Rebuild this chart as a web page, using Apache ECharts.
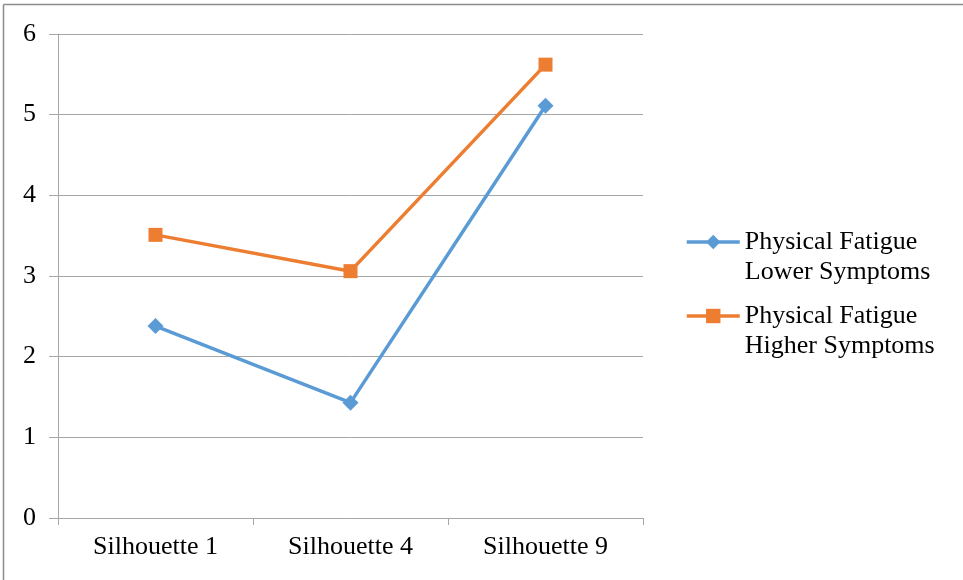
<!DOCTYPE html>
<html>
<head>
<meta charset="utf-8">
<script src="https://cdn.jsdelivr.net/npm/echarts@6/dist/echarts.min.js"></script>
<style>html,body{margin:0;padding:0;background:#fff}#c{width:963px;height:580px}</style>
</head>
<body>
<div id="c"></div>
<script>
const categories = ['Silhouette 1', 'Silhouette 4', 'Silhouette 9'];
const lowerName = 'Physical Fatigue\nLower Symptoms';
const higherName = 'Physical Fatigue\nHigher Symptoms';
const lowerValues = [2.38, 1.43, 5.11];
const higherValues = [3.51, 3.06, 5.62];
const yTicks = [0, 1, 2, 3, 4, 5, 6];

const FONT = '"Liberation Serif", "Times New Roman", serif';
const GRID = '#a6a6a6';
const chart = echarts.init(document.getElementById('c'), null, {renderer: 'canvas'});
chart.setOption({
  animation: false,
  backgroundColor: '#fff',
  grid: {left: 58, right: 320, top: 34, bottom: 62, containLabel: false},
  xAxis: {
    type: 'category',
    data: categories,
    boundaryGap: true,
    axisLine: {lineStyle: {color: GRID, width: 1}},
    axisTick: {show: true, length: 7, lineStyle: {color: GRID}},
    axisLabel: {color: '#000', fontFamily: FONT, fontSize: 26, margin: 16}
  },
  yAxis: {
    type: 'value',
    min: yTicks[0], max: yTicks[yTicks.length - 1], interval: 1,
    axisLine: {show: true, lineStyle: {color: GRID, width: 1}},
    axisTick: {show: true, length: 9, lineStyle: {color: GRID}},
    splitLine: {show: true, lineStyle: {color: GRID, width: 1}},
    axisLabel: {color: '#000', fontFamily: FONT, fontSize: 26, margin: 22}
  },
  legend: {
    orient: 'vertical',
    left: 685, top: 197,
    padding: 0,
    itemWidth: 53, itemHeight: 18,
    itemGap: -16,
    lineStyle: {width: 3.5},
    formatter: function (n) { return '\n' + n; },
    textStyle: {color: '#000', fontFamily: FONT, fontSize: 26, lineHeight: 30},
    data: [lowerName, higherName]
  },
  series: [
    {
      name: lowerName, type: 'line', data: lowerValues,
      symbol: 'diamond', symbolSize: 16,
      lineStyle: {color: '#5B9BD5', width: 3.5},
      itemStyle: {color: '#5B9BD5'}
    },
    {
      name: higherName, type: 'line', data: higherValues,
      symbol: 'rect', symbolSize: 14,
      lineStyle: {color: '#ED7D31', width: 3.5},
      itemStyle: {color: '#ED7D31'}
    }
  ],
  graphic: [
    {type: 'line', shape: {x1: 3.5, y1: 4.5, x2: 963, y2: 4.5}, style: {stroke: '#8c8c8c', lineWidth: 1.5}, silent: true},
    {type: 'line', shape: {x1: 3.5, y1: 4.5, x2: 3.5, y2: 580}, style: {stroke: '#8c8c8c', lineWidth: 1.5}, silent: true}
  ]
});
</script>
</body>
</html>
